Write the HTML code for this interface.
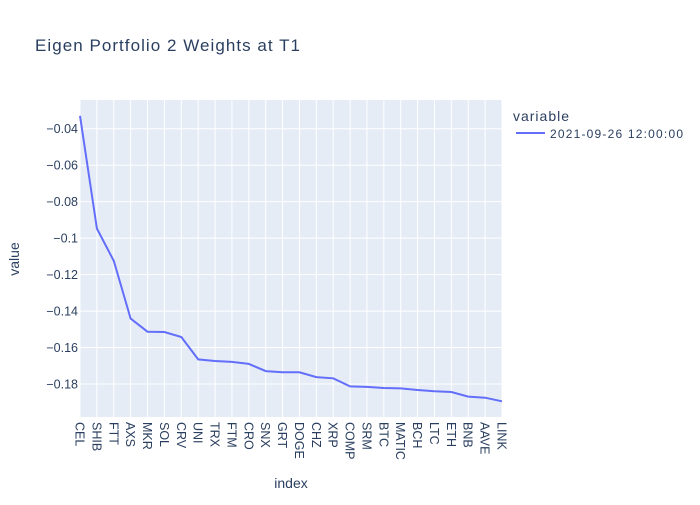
<!DOCTYPE html>
<html><head><meta charset="utf-8"><style>
body{margin:0;background:#fff;font-family:"Liberation Sans",sans-serif;}
svg text{font-family:"Liberation Sans",sans-serif;fill:#2a3f5f;}
</style></head><body>
<svg id="chart" width="700" height="500" xmlns="http://www.w3.org/2000/svg">
<rect width="700" height="500" fill="#fff"/>
<text x="35" y="51" font-size="17" textLength="265">Eigen Portfolio 2 Weights at T1</text>
<rect x="80" y="100" width="422" height="317" fill="#e5ecf6"/>
<g id="grid"></g>
<g id="ticks"></g>
<path id="line" fill="none" stroke="#636efa" stroke-width="2"/>
<text x="19" y="259" font-size="14" transform="rotate(-90 19 259)" text-anchor="middle">value</text>
<text x="291" y="488" font-size="14" text-anchor="middle">index</text>
<g>
<text x="513" y="121" font-size="14" textLength="56">variable</text>
<line x1="516" y1="133" x2="545" y2="133" stroke="#636efa" stroke-width="2"/>
<text x="550" y="138" font-size="12" textLength="133">2021-09-26 12:00:00</text>
</g>
</svg>
<script>
const categories=["CEL","SHIB","FTT","AXS","MKR","SOL","CRV","UNI","TRX","FTM","CRO","SNX","GRT","DOGE","CHZ","XRP","COMP","SRM","BTC","MATIC","BCH","LTC","ETH","BNB","AAVE","LINK"];
const values=[-0.0329,-0.0947,-0.1125,-0.1441,-0.1513,-0.1515,-0.1542,-0.1665,-0.1674,-0.1679,-0.169,-0.1729,-0.1736,-0.1736,-0.1762,-0.1769,-0.1813,-0.1816,-0.1822,-0.1824,-0.1833,-0.184,-0.1844,-0.1869,-0.1875,-0.1895];
const yTicks=[-0.04,-0.06,-0.08,-0.1,-0.12,-0.14,-0.16,-0.18];
const yTickLabels=["−0.04","−0.06","−0.08","−0.1","−0.12","−0.14","−0.16","−0.18"];
const NS="http://www.w3.org/2000/svg";
const x0=80,x1=502,yTop=100,yBot=417,yMax=-0.02424,yMin=-0.1981;
const xs=i=>x0+i*(x1-x0)/(categories.length-1);
const ys=v=>yTop+(yMax-v)/(yMax-yMin)*(yBot-yTop);
const grid=document.getElementById('grid'),ticks=document.getElementById('ticks');
categories.forEach((c,i)=>{
 const l=document.createElementNS(NS,'line');
 l.setAttribute('x1',xs(i));l.setAttribute('x2',xs(i));l.setAttribute('y1',yTop);l.setAttribute('y2',yBot);
 l.setAttribute('stroke','#fff');l.setAttribute('stroke-width','1');
 
 
 grid.appendChild(l);
 const t=document.createElementNS(NS,'text');
 const tx=xs(i)-4.5,ty=422;
 t.setAttribute('x',tx);t.setAttribute('y',ty);t.setAttribute('font-size','12.5');
 t.setAttribute('transform','rotate(90 '+tx+' '+ty+')');
 t.textContent=c;
 
 
 ticks.appendChild(t);
});
yTicks.forEach((v,i)=>{
 const l=document.createElementNS(NS,'line');
 l.setAttribute('x1',x0);l.setAttribute('x2',x1);l.setAttribute('y1',ys(v));l.setAttribute('y2',ys(v));
 l.setAttribute('stroke','#fff');l.setAttribute('stroke-width','1');
 
 
 grid.appendChild(l);
 const t=document.createElementNS(NS,'text');
 t.setAttribute('x',78);t.setAttribute('y',ys(v)+4.5);t.setAttribute('font-size','12.5');t.setAttribute('text-anchor','end');
 t.textContent=yTickLabels[i];
 
 
 ticks.appendChild(t);
});
document.getElementById('line').setAttribute('d',values.map((v,i)=>(i?'L':'M')+xs(i).toFixed(1)+','+ys(v).toFixed(1)).join(''));
</script>
</body></html>
